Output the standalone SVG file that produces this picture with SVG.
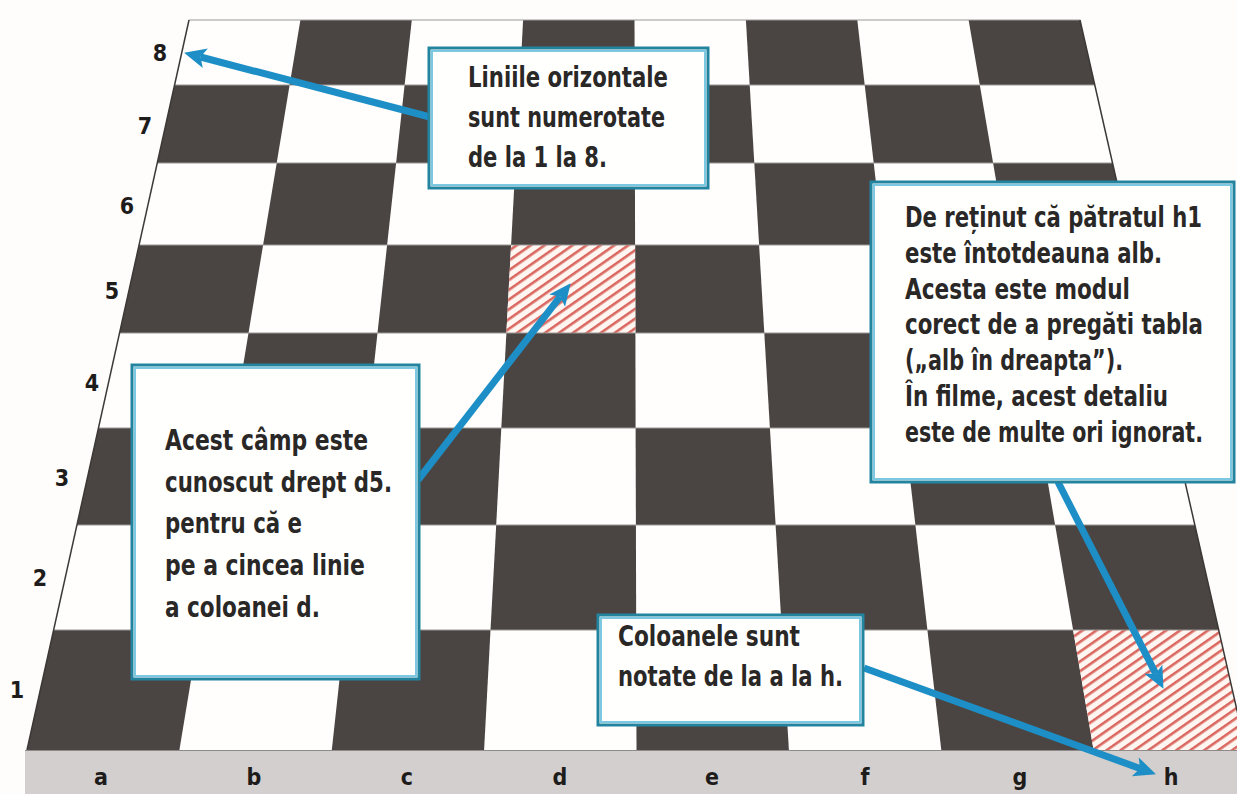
<svg xmlns="http://www.w3.org/2000/svg" width="1237" height="794" viewBox="0 0 1237 794">
<defs>
<style>
.dk{fill:#4a4542}
.grid{stroke:#9a9896;stroke-width:1;fill:none}
.box{fill:#fffffe;stroke:#23849f;stroke-width:3}
.boxin{fill:none;stroke:#7cc8e2;stroke-width:2}
.t{font-family:'Liberation Sans Narrow','DejaVu Sans Condensed','Liberation Sans',sans-serif;font-weight:bold;font-size:29px;fill:#2a2827}
.lbl{font-family:'Liberation Sans Narrow','DejaVu Sans Condensed','Liberation Sans',sans-serif;font-weight:bold;font-size:23px;fill:#1e1c1b;text-anchor:middle}
.arr{stroke:#1d8fc6;stroke-width:7;fill:none;marker-end:url(#ah)}
</style>
<pattern id="hatch" patternUnits="userSpaceOnUse" width="8" height="8" patternTransform="rotate(-35)">
<rect width="8" height="8" fill="#fff6f2"/>
<rect width="8" height="2.6" fill="#d9675f"/>
</pattern>
<marker id="ah" markerUnits="userSpaceOnUse" viewBox="-2 -12 28 24" refX="5" refY="0" markerWidth="28" markerHeight="24" orient="auto">
<path d="M0,-10 L22,0 L0,10 L5,0 Z" fill="#1d8fc6"/>
</marker>
</defs>
<rect width="1237" height="794" fill="#fefdfc"/>
<g id="board">
<polygon points="189,20 1080,20 1246,750 27,750" fill="#fffefc"/>
<g id="dark-squares">
<polygon class="dk" points="300.4,20 411.8,20 404.6,85 289.6,85"/>
<polygon class="dk" points="523.1,20 634.5,20 634.7,85 519.7,85"/>
<polygon class="dk" points="745.9,20 857.3,20 864.7,85 749.7,85"/>
<polygon class="dk" points="968.6,20 1080,20 1094.8,85 979.8,85"/>
<polygon class="dk" points="174.6,85 289.6,85 276.7,163 157.3,163"/>
<polygon class="dk" points="404.6,85 519.7,85 515.5,163 396.1,163"/>
<polygon class="dk" points="634.7,85 749.7,85 754.3,163 634.9,163"/>
<polygon class="dk" points="864.7,85 979.8,85 993.1,163 873.7,163"/>
<polygon class="dk" points="276.7,163 396.1,163 387.1,245 263.1,245"/>
<polygon class="dk" points="515.5,163 634.9,163 635.1,245 511.1,245"/>
<polygon class="dk" points="754.3,163 873.7,163 883.1,245 759.1,245"/>
<polygon class="dk" points="993.1,163 1112.5,163 1131.2,245 1007.1,245"/>
<polygon class="dk" points="139.1,245 263.1,245 248.5,333 119.5,333"/>
<polygon class="dk" points="387.1,245 511.1,245 506.4,333 377.5,333"/>
<polygon class="dk" points="635.1,245 759.1,245 764.3,333 635.4,333"/>
<polygon class="dk" points="883.1,245 1007.1,245 1022.2,333 893.3,333"/>
<polygon class="dk" points="248.5,333 377.5,333 367,428 232.8,428"/>
<polygon class="dk" points="506.4,333 635.4,333 635.6,428 501.3,428"/>
<polygon class="dk" points="764.3,333 893.3,333 904.2,428 769.9,428"/>
<polygon class="dk" points="1022.2,333 1151.2,333 1172.8,428 1038.5,428"/>
<polygon class="dk" points="98.5,428 232.8,428 216.7,525 76.9,525"/>
<polygon class="dk" points="367,428 501.3,428 496.2,525 356.4,525"/>
<polygon class="dk" points="635.6,428 769.9,428 775.6,525 635.9,525"/>
<polygon class="dk" points="904.2,428 1038.5,428 1055.1,525 915.4,525"/>
<polygon class="dk" points="216.7,525 356.4,525 344.9,630 199.3,630"/>
<polygon class="dk" points="496.2,525 635.9,525 636.2,630 490.5,630"/>
<polygon class="dk" points="775.6,525 915.4,525 927.4,630 781.8,630"/>
<polygon class="dk" points="1055.1,525 1194.9,525 1218.7,630 1073.1,630"/>
<polygon class="dk" points="53.6,630 199.3,630 179.4,750 27,750"/>
<polygon class="dk" points="344.9,630 490.5,630 484.1,750 331.8,750"/>
<polygon class="dk" points="636.2,630 781.8,630 788.9,750 636.5,750"/>
<polygon class="dk" points="927.4,630 1073.1,630 1093.6,750 941.3,750"/>
</g>
<g id="hatched-squares">
<polygon points="511.1,245 635.1,245 635.4,333 506.4,333" fill="url(#hatch)"/>
<polygon points="1073.1,630 1218.7,630 1246,750 1093.6,750" fill="url(#hatch)"/>
</g>
<g id="grid-lines" class="grid">
<line x1="189" y1="20" x2="1080" y2="20"/>
<line x1="174.6" y1="85" x2="1094.8" y2="85"/>
<line x1="157.3" y1="163" x2="1112.5" y2="163"/>
<line x1="139.1" y1="245" x2="1131.2" y2="245"/>
<line x1="119.5" y1="333" x2="1151.2" y2="333"/>
<line x1="98.5" y1="428" x2="1172.8" y2="428"/>
<line x1="76.9" y1="525" x2="1194.9" y2="525"/>
<line x1="53.6" y1="630" x2="1218.7" y2="630"/>
<line x1="189" y1="20" x2="27" y2="750" stroke="#3c3836" stroke-width="1.5"/>
<line x1="1080" y1="20" x2="1246" y2="750" stroke="#3c3836" stroke-width="1.5"/>
</g>
</g>
<g id="file-strip">
<rect x="25" y="750" width="1212" height="44" fill="#d3cfce"/>
<line x1="25" y1="750.5" x2="1237" y2="750.5" stroke="#8e8a89" stroke-width="1"/>
<text class="lbl" x="101" y="785">a</text>
<text class="lbl" x="254" y="785">b</text>
<text class="lbl" x="407" y="785">c</text>
<text class="lbl" x="560" y="785">d</text>
<text class="lbl" x="712" y="785">e</text>
<text class="lbl" x="865" y="785">f</text>
<text class="lbl" x="1020" y="785">g</text>
<text class="lbl" x="1171" y="785">h</text>
</g>
<g id="rank-labels">
<text class="lbl" x="160" y="61">8</text>
<text class="lbl" x="145" y="134">7</text>
<text class="lbl" x="127" y="214">6</text>
<text class="lbl" x="112" y="299">5</text>
<text class="lbl" x="92" y="391">4</text>
<text class="lbl" x="62" y="486">3</text>
<text class="lbl" x="40" y="586">2</text>
<text class="lbl" x="17" y="698">1</text>
</g>
<g id="connectors">
<path class="arr" d="M430,117 L200.5,57"/>
<path class="arr" d="M418,480 L560.2,296.6"/>
<path class="arr" d="M1058,482 L1155.7,673.7"/>
<path class="arr" d="M864,668 L1140,768.5"/>
</g>
<g id="note-ranks">
<rect class="box" x="429" y="48" width="279" height="140"/>
<rect class="boxin" x="432" y="51" width="273" height="134"/>
<text class="t" x="468" y="87" textLength="200" lengthAdjust="spacingAndGlyphs">Liniile orizontale</text>
<text class="t" x="468" y="127" textLength="197" lengthAdjust="spacingAndGlyphs">sunt numerotate</text>
<text class="t" x="468" y="167" textLength="139" lengthAdjust="spacingAndGlyphs">de la 1 la 8.</text>
</g>
<g id="note-d5">
<rect class="box" x="132" y="365" width="287" height="314"/>
<rect class="boxin" x="135" y="368" width="281" height="308"/>
<text class="t" x="165" y="450" textLength="203" lengthAdjust="spacingAndGlyphs">Acest câmp este</text>
<text class="t" x="165" y="492" textLength="227" lengthAdjust="spacingAndGlyphs">cunoscut drept d5.</text>
<text class="t" x="165" y="533" textLength="137" lengthAdjust="spacingAndGlyphs">pentru că e</text>
<text class="t" x="165" y="575" textLength="200" lengthAdjust="spacingAndGlyphs">pe a cincea linie</text>
<text class="t" x="165" y="617" textLength="155" lengthAdjust="spacingAndGlyphs">a coloanei d.</text>
</g>
<g id="note-h1">
<rect class="box" x="871" y="182" width="363" height="300"/>
<rect class="boxin" x="874" y="185" width="357" height="294"/>
<text class="t" transform="translate(905,227) scale(0.85,1)" textLength="349.4" lengthAdjust="spacingAndGlyphs">De reținut că pătratul h1</text>
<text class="t" transform="translate(905,263) scale(0.85,1)" textLength="302.4" lengthAdjust="spacingAndGlyphs">este întotdeauna alb.</text>
<text class="t" transform="translate(905,299) scale(0.85,1)" textLength="264.7" lengthAdjust="spacingAndGlyphs">Acesta este modul</text>
<text class="t" transform="translate(905,334) scale(0.85,1)" textLength="350.6" lengthAdjust="spacingAndGlyphs">corect de a pregăti tabla</text>
<text class="t" transform="translate(905,370) scale(0.85,1)" textLength="256.5" lengthAdjust="spacingAndGlyphs">(„alb în dreapta”).</text>
<text class="t" transform="translate(905,406) scale(0.85,1)" textLength="309.4" lengthAdjust="spacingAndGlyphs">În filme, acest detaliu</text>
<text class="t" transform="translate(905,442) scale(0.85,1)" textLength="350.6" lengthAdjust="spacingAndGlyphs">este de multe ori ignorat.</text>
</g>
<g id="note-files">
<rect class="box" x="598" y="615" width="265" height="110"/>
<rect class="boxin" x="601" y="618" width="259" height="104"/>
<text class="t" x="618" y="646" textLength="182" lengthAdjust="spacingAndGlyphs">Coloanele sunt</text>
<text class="t" x="618" y="686" textLength="225" lengthAdjust="spacingAndGlyphs">notate de la a la h.</text>
</g>
</svg>
